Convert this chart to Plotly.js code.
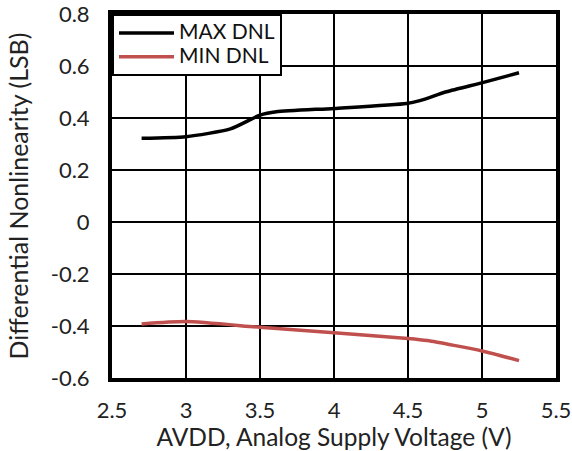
<!DOCTYPE html>
<html><head><meta charset="utf-8">
<script src="https://cdn.plot.ly/plotly-3.0.1.min.js"></script>
<style>body{margin:0;padding:0;background:#fff}#chart{width:572px;height:451px}</style>
</head><body><div id="chart"></div>
<script>
const maxX = [2.7, 3.0, 3.3, 3.5, 3.61, 4.0, 4.49, 4.58, 4.76, 5.01, 5.25];
const maxY = [0.322, 0.328, 0.358, 0.411, 0.424, 0.437, 0.456, 0.467, 0.501, 0.537, 0.574];
const minX = [2.7, 3.0, 3.5, 4.0, 4.5, 4.63, 5.0, 5.25];
const minY = [-0.392, -0.383, -0.405, -0.426, -0.448, -0.456, -0.496, -0.533];
const seriesNames = ["MAX DNL", "MIN DNL"];
const xTickVals = [2.5, 3, 3.5, 4, 4.5, 5, 5.5];
const xTickText = ["2.5", "3", "3.5", "4", "4.5", "5", "5.5"];
const yTickVals = [-0.6, -0.4, -0.2, 0, 0.2, 0.4, 0.6, 0.8];
const yTickText = ["-0.6", "-0.4", "-0.2", "0", "0.2", "0.4", "0.6", "0.8"];
const xTitle = "AVDD, Analog Supply Voltage (V)";
const yTitle = "Differential Nonlinearity (LSB)";

const font = "Lato, 'Open Sans', sans-serif";
const legendName = s => '<span style="font-size:21px">' + s + '</span>';
const traces = [
  {x: maxX, y: maxY, name: legendName(seriesNames[0]), mode: "lines", line: {color: "#000000", width: 3.5, shape: "spline", smoothing: 0.6}},
  {x: minX, y: minY, name: legendName(seriesNames[1]), mode: "lines", line: {color: "#C0504D", width: 3.5, shape: "spline", smoothing: 0.6}}
];
const axisCommon = {showline: true, mirror: true, linecolor: "#000", linewidth: 4, showgrid: true, gridcolor: "#000000", gridwidth: 1.5, zeroline: false, ticks: "outside", tickcolor: "rgba(255,255,255,0)", ticklabeloverflow: "allow", tickfont: {family: font, size: 22, color: "#222"}};
const layout = {
  width: 572, height: 451,
  margin: {l: 112, r: 16, t: 14, b: 73},
  paper_bgcolor: "#fff", plot_bgcolor: "#fff",
  font: {family: font, color: "#222"},
  showlegend: true,
  legend: {x: 0, y: 1, xanchor: "left", yanchor: "top", bgcolor: "#fff", bordercolor: "#000", borderwidth: 2, font: {family: font, size: 16, color: "#111"}, itemwidth: 55, tracegroupgap: 0},
  xaxis: Object.assign({}, axisCommon, {range: [2.5, 5.5], tickmode: "array", tickvals: xTickVals, ticktext: xTickText, ticklen: 10, title: {text: xTitle, font: {family: font, size: 24.5, color: "#222"}, standoff: 4}}),
  yaxis: Object.assign({}, axisCommon, {range: [-0.6, 0.8], tickmode: "array", tickvals: yTickVals, ticktext: yTickText, ticklen: 14, title: {text: yTitle, font: {family: font, size: 25, color: "#222"}, standoff: 16}})
};
Plotly.newPlot("chart", traces, layout, {displayModeBar: false, staticPlot: true});
</script></body></html>
